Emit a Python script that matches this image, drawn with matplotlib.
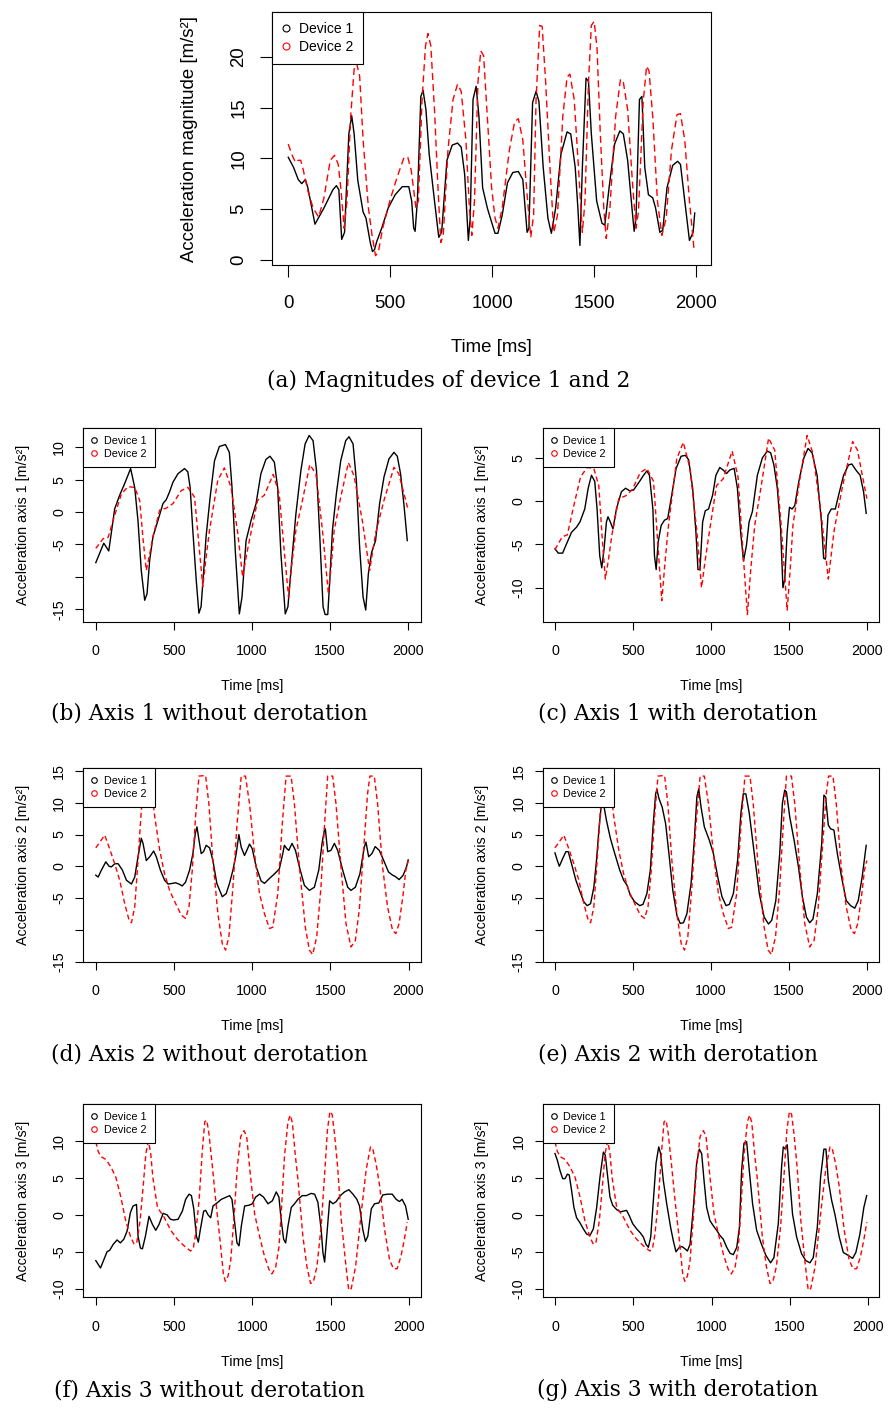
import matplotlib
matplotlib.use('Agg')
import matplotlib.pyplot as plt
from matplotlib.lines import Line2D

plt.rcParams['font.family'] = ['Liberation Sans', 'DejaVu Sans']

# ---------------- data: (time [ms], value [m/s^2]) ----------------
MAG_DEV1 = [(0,10.1),(26,9.1),(49,7.9),(66,7.5),(84,7.9),(96,7.1),(131,3.5),(175,5.1),(219,6.9),(236,7.3),
            (248,6.9),(262,2.0),(276,2.7),(297,12.4),(311,14.2),(323,12.4),(341,7.8),(367,4.7),(381,4.1),(402,1.7),
            (413,0.8),(423,1.0),(434,1.8),(458,3.1),(490,5.1),(524,6.4),(559,7.2),(591,7.2),(605,5.8),(615,3.1),
            (622,2.8),(633,5.8),(650,16.1),(661,16.7),(675,14.8),(691,10.4),(717,5.8),(738,2.2),(752,2.7),(778,9.8),
            (804,11.3),(830,11.5),(848,11.1),(865,8.4),(883,1.9),(892,4.1),(906,15.8),(921,17.1),(935,14.1),(953,7.1),
            (976,5.1),(997,3.7),(1014,2.6),(1028,2.6),(1049,4.4),(1075,7.6),(1101,8.6),(1128,8.7),(1150,7.9),(1171,2.7),
            (1180,3.1),(1198,15.5),(1215,16.6),(1229,15.6),(1250,9.1),(1273,4.1),(1290,2.6),(1311,5.1),(1337,10.4),(1367,12.6),
            (1385,12.4),(1407,9.1),(1420,5.1),(1430,1.4),(1442,9.1),(1460,17.9),(1472,17.6),(1486,12.4),(1512,5.8),(1538,3.6),
            (1552,3.4),(1573,7.1),(1600,11.4),(1626,12.7),(1643,12.4),(1664,9.8),(1687,4.7),(1696,2.8),(1705,4.1),(1722,15.8),
            (1734,16.1),(1748,9.1),(1766,6.4),(1787,6.1),(1801,5.1),(1822,2.7),(1836,2.9),(1857,7.1),(1885,9.3),(1909,9.7),
            (1923,9.4),(1944,5.8),(1967,1.9),(1985,2.7),(1993,4.6)]

MAG_DEV2 = [(0,11.4),(17,10.4),(35,9.6),(49,9.8),(61,9.8),(73,8.9),(96,6.8),(122,5.1),(149,4.2),(175,6.1),
            (206,9.8),(227,10.3),(245,9.4),(259,6.8),(274,3.1),(288,5.8),(306,14.1),(323,18.8),(336,19.3),(350,18.1),
            (367,11.8),(393,5.1),(411,2.4),(428,0.4),(441,0.7),(463,3.1),(498,5.8),(533,8.1),(568,10.1),(586,10.1),
            (603,8.8),(626,5.1),(638,5.8),(656,15.8),(673,21.1),(685,22.3),(699,21.1),(717,14.8),(734,7.1),(748,1.7),
            (760,2.4),(783,10.8),(808,15.8),(830,17.3),(848,16.6),(871,11.8),(888,5.1),(900,2.4),(913,5.8),(930,17.5),
            (944,20.6),(958,20.1),(976,14.1),(997,7.1),(1014,4.1),(1028,3.1),(1049,5.1),(1084,10.8),(1110,13.6),(1128,13.9),
            (1150,11.8),(1171,6.4),(1189,2.2),(1203,4.4),(1215,15.8),(1233,23.1),(1245,23.0),(1262,17.5),(1285,8.4),(1302,2.7),
            (1320,4.4),(1346,14.1),(1367,18.0),(1381,18.3),(1402,15.8),(1425,8.4),(1442,2.7),(1455,5.8),(1472,17.5),(1486,23.1),
            (1500,23.5),(1514,20.8),(1530,12.4),(1547,5.1),(1559,2.1),(1577,5.1),(1605,14.1),(1629,17.8),(1643,17.5),(1664,14.8),
            (1687,7.8),(1705,3.1),(1717,4.7),(1740,15.5),(1757,19.1),(1769,18.6),(1787,14.1),(1810,5.8),(1832,2.4),(1853,4.1),
            (1879,10.8),(1906,14.3),(1923,14.4),(1944,11.8),(1967,5.8),(1990,0.9)]

AX1_DEV1_RAW = [(0,-7.8),(51,-4.8),(83,-6.0),(121,0.5),(153,2.6),(185,4.4),(223,6.7),(249,3.8),(270,-1.3),(291,-9.0),
                (313,-13.6),(328,-12.6),(345,-7.4),(366,-3.8),(398,-1.3),(430,1.3),(451,1.9),(472,3.1),(494,4.6),(526,5.9),
                (568,6.7),(589,6.2),(604,3.8),(621,-2.8),(643,-10.5),(660,-15.6),(674,-14.6),(691,-9.0),(706,-3.8),(732,2.3),
                (760,7.9),(791,10.1),(830,10.4),(855,9.2),(872,3.8),(894,-6.4),(919,-15.7),(936,-13.1),(962,-4.4),(994,-1.3),
                (1026,1.3),(1057,5.9),(1089,8.1),(1115,8.6),(1143,7.7),(1164,3.8),(1185,-6.4),(1213,-15.7),(1230,-14.6),(1255,-7.4),
                (1281,-0.3),(1313,6.4),(1340,10.5),(1366,11.8),(1391,11.0),(1413,6.4),(1434,-3.8),(1455,-14.6),(1468,-15.8),(1485,-15.8),
                (1498,-10.5),(1515,-2.8),(1540,2.8),(1568,7.9),(1600,11.0),(1621,11.6),(1647,10.5),(1668,4.9),(1689,-5.4),(1711,-13.1),
                (1728,-15.1),(1745,-9.5),(1766,-6.2),(1791,-4.4),(1817,1.3),(1845,5.4),(1877,8.2),(1909,9.2),(1930,8.6),(1951,5.9),
                (1972,1.3),(1994,-4.4)]

AX1_DEV1_DEROT = [(0,-5.5),(21,-6.0),(49,-6.0),(70,-5.1),(106,-3.6),(138,-3.0),(160,-2.4),(191,-0.9),(213,1.5),(234,3.0),
                  (255,2.3),(270,-0.9),(287,-6.3),(300,-7.7),(315,-5.5),(330,-2.4),(340,-1.8),(355,-2.4),(372,-3.2),(394,-0.9),
                  (426,1.1),(453,1.5),(479,1.2),(504,1.3),(543,2.3),(568,3.0),(589,3.5),(606,3.0),(628,-0.9),(638,-6.3),
                  (649,-7.9),(662,-4.7),(681,-2.8),(702,-2.2),(723,-2.0),(745,0.3),(777,3.8),(809,5.2),(836,5.3),(857,4.8),
                  (883,1.5),(904,-3.6),(917,-7.9),(930,-7.9),(947,-2.4),(964,-1.1),(985,-0.9),(1011,0.7),(1032,3.0),(1057,3.9),
                  (1079,3.6),(1100,3.2),(1121,3.6),(1149,3.8),(1170,1.5),(1191,-3.6),(1209,-6.9),(1228,-5.1),(1245,-2.4),(1266,-1.2),
                  (1298,3.0),(1330,5.0),(1362,5.8),(1383,5.6),(1404,4.2),(1426,1.5),(1447,-3.2),(1462,-10.0),(1474,-9.0),(1489,-3.6),
                  (1504,-0.7),(1521,-0.9),(1538,-0.5),(1564,2.3),(1596,5.0),(1623,6.1),(1649,5.6),(1681,3.0),(1709,-2.4),(1723,-6.6),
                  (1734,-6.7),(1751,-1.6),(1772,-0.9),(1798,-0.9),(1819,0.7),(1851,3.0),(1883,4.2),(1904,4.3),(1930,3.6),(1957,3.0),
                  (1979,1.1),(1996,-1.4)]

AX1_DEV2 = [(0,-5.6),(47,-4.1),(79,-3.9),(121,-0.5),(164,2.8),(206,3.9),(249,3.8),(281,1.8),(302,-4.0),(323,-9.0),
            (345,-6.5),(366,-3.8),(409,0.3),(451,0.6),(494,1.3),(547,3.3),(589,3.8),(632,2.3),(660,-5.0),(685,-11.5),
            (706,-7.0),(728,-2.8),(781,4.9),(823,6.8),(866,3.8),(909,-3.3),(940,-10.0),(962,-7.0),(983,-4.4),(1036,1.8),
            (1079,2.6),(1136,5.8),(1174,2.8),(1206,-5.9),(1234,-13.1),(1255,-8.0),(1281,-2.8),(1323,1.8),(1370,7.3),(1409,5.9),
            (1451,-2.8),(1489,-12.6),(1508,-8.0),(1526,-2.8),(1568,2.3),(1617,7.6),(1653,5.6),(1706,-1.3),(1753,-9.0),(1791,-3.3),
            (1845,1.8),(1909,6.9),(1940,5.9),(2000,0.3)]

AX2_DEV1_RAW = [(0,-1.4),(15,-1.7),(36,-0.6),(64,0.7),(85,0.0),(100,-0.1),(121,0.4),(143,0.4),(170,-0.6),(196,-2.2),
                (228,-2.8),(249,-1.7),(270,1.5),(291,4.4),(302,3.6),(323,0.9),(345,1.5),(370,2.4),(387,1.5),(413,-0.6),
                (440,-2.2),(462,-2.8),(489,-2.7),(511,-2.6),(532,-2.8),(553,-3.1),(574,-2.5),(600,-0.6),(621,2.0),(636,5.1),
                (647,6.2),(660,4.1),(674,2.0),(689,2.3),(706,3.3),(728,2.9),(749,0.9),(774,-2.7),(809,-4.8),(834,-4.3),
                (855,-2.7),(877,-0.6),(898,2.0),(915,5.0),(930,3.0),(951,1.7),(966,2.5),(983,3.5),(1000,2.8),(1026,-0.1),
                (1057,-2.3),(1079,-2.7),(1111,-1.9),(1143,-1.2),(1174,-0.4),(1196,2.0),(1206,3.3),(1221,2.8),(1234,2.5),(1255,3.6),
                (1277,2.5),(1302,-0.1),(1334,-3.0),(1366,-3.8),(1398,-3.3),(1426,-0.6),(1447,3.6),(1462,5.7),(1468,5.9),(1483,2.3),
                (1504,2.5),(1526,3.6),(1547,2.5),(1579,-0.6),(1611,-3.3),(1632,-3.8),(1660,-3.3),(1689,-1.2),(1717,3.0),(1728,3.8),
                (1745,1.5),(1766,2.0),(1787,3.1),(1813,2.5),(1845,0.7),(1872,-0.9),(1898,-1.4),(1915,-1.6),(1940,-2.1),(1966,-1.4),
                (1987,-0.1),(1998,1.0)]

AX2_DEV1_DEROT = [(0,2.1),(15,0.9),(28,0.0),(49,1.2),(70,2.3),(85,2.3),(106,0.4),(134,-2.2),(160,-4.0),(185,-5.6),
                  (206,-6.2),(228,-5.9),(249,-3.3),(266,0.9),(283,6.2),(298,9.9),(309,10.1),(330,7.2),(355,4.4),(383,2.0),
                  (415,-0.6),(440,-2.2),(462,-3.0),(483,-4.6),(511,-5.6),(543,-6.2),(564,-6.0),(589,-4.3),(611,-0.6),(628,6.2),
                  (645,11.4),(653,12.1),(666,10.7),(687,9.3),(709,6.7),(730,2.0),(755,-3.8),(781,-7.7),(802,-9.0),(823,-8.9),
                  (845,-7.5),(872,-2.7),(894,4.6),(909,10.9),(921,12.2),(936,9.3),(957,6.2),(989,4.1),(1015,2.0),(1043,-1.7),
                  (1070,-4.8),(1096,-6.2),(1117,-6.0),(1143,-4.3),(1170,0.9),(1191,8.3),(1206,11.4),(1223,11.4),(1245,8.3),(1277,2.0),
                  (1309,-4.3),(1340,-8.0),(1368,-9.1),(1389,-8.5),(1415,-5.4),(1440,2.0),(1457,9.9),(1472,12.0),(1483,11.7),(1504,7.8),
                  (1532,4.1),(1560,-0.1),(1585,-4.8),(1611,-8.0),(1632,-8.9),(1653,-8.3),(1681,-4.3),(1709,3.6),(1723,11.2),(1734,10.9),
                  (1751,6.5),(1766,5.9),(1787,5.7),(1809,2.0),(1840,-2.2),(1866,-5.4),(1894,-6.2),(1921,-6.6),(1943,-5.4),(1968,-1.7),
                  (1994,3.3)]

AX2_DEV2 = [(0,2.9),(26,3.8),(57,4.9),(85,3.0),(121,0.4),(153,-2.2),(185,-5.9),(213,-8.5),(228,-8.9),(249,-6.4),
            (270,0.9),(291,8.8),(313,13.0),(334,14.3),(355,12.5),(377,7.8),(409,2.5),(440,-1.2),(472,-3.8),(511,-5.9),
            (547,-7.7),(574,-8.2),(596,-6.4),(617,-0.6),(638,7.8),(660,14.2),(702,14.3),(723,9.9),(749,0.9),(781,-7.5),
            (809,-12.2),(830,-13.2),(851,-11.1),(877,-3.3),(902,6.2),(930,14.2),(957,14.2),(983,9.9),(1015,2.0),(1047,-4.3),
            (1079,-7.5),(1111,-9.8),(1132,-9.6),(1164,-4.3),(1191,6.2),(1217,14.2),(1249,14.2),(1270,9.9),(1302,-0.1),(1340,-9.6),
            (1366,-13.2),(1387,-13.9),(1413,-11.1),(1440,-3.3),(1462,6.2),(1483,14.2),(1515,14.2),(1536,9.9),(1568,-0.1),(1600,-9.0),
            (1632,-12.7),(1660,-11.7),(1685,-6.9),(1711,2.0),(1738,11.4),(1753,14.2),(1781,14.2),(1802,9.9),(1834,-0.1),(1866,-6.4),
            (1898,-10.1),(1919,-10.6),(1940,-9.0),(1966,-4.3),(1983,-0.6),(1998,0.9)]

AX3_DEV1_RAW = [(0,-6.2),(30,-7.2),(51,-6.1),(72,-5.0),(89,-4.8),(111,-4.0),(136,-3.4),(157,-3.8),(179,-3.3),(200,-2.2),
                (221,0.3),(238,1.2),(260,1.4),(270,-2.9),(285,-4.5),(298,-4.6),(317,-2.9),(340,-0.2),(362,-1.3),(383,-2.1),
                (404,-1.3),(430,0.2),(455,0.0),(477,-0.6),(498,-0.7),(526,-0.6),(553,0.5),(574,2.1),(596,2.8),(611,2.6),
                (626,0.8),(643,-2.9),(655,-3.7),(668,-2.0),(689,0.5),(702,0.6),(717,0.0),(734,-0.4),(749,1.2),(774,1.6),
                (802,2.1),(834,2.4),(855,2.6),(870,2.1),(887,-1.0),(902,-3.8),(915,-4.2),(930,-1.5),(951,1.2),(979,1.3),
                (1000,1.5),(1021,2.4),(1047,2.8),(1072,2.4),(1100,1.5),(1128,1.9),(1153,3.1),(1170,2.4),(1185,-0.8),(1200,-3.3),
                (1213,-3.8),(1228,-1.5),(1249,1.0),(1270,1.5),(1291,2.1),(1319,2.6),(1345,2.6),(1376,2.9),(1398,2.8),(1419,1.7),
                (1440,-2.0),(1451,-5.1),(1462,-6.4),(1472,-3.8),(1494,1.9),(1515,1.5),(1536,1.8),(1562,2.6),(1589,3.1),(1617,3.4),
                (1643,2.8),(1668,2.1),(1685,1.2),(1706,-2.0),(1723,-3.6),(1738,-2.9),(1760,0.8),(1781,1.5),(1808,1.6),(1834,2.7),
                (1866,2.8),(1894,2.8),(1919,2.1),(1940,1.8),(1957,2.1),(1979,1.2),(1996,-0.6)]

AX3_DEV1_DEROT = [(0,8.3),(15,7.4),(32,6.0),(49,4.9),(64,4.9),(79,5.5),(91,5.4),(106,3.3),(121,1.0),(138,-0.4),
                  (160,-1.1),(181,-1.9),(202,-2.6),(223,-2.8),(245,-1.9),(266,1.0),(287,5.1),(309,8.5),(321,8.1),(334,5.6),
                  (351,2.4),(368,1.3),(394,0.7),(419,0.4),(436,0.5),(457,0.6),(474,-0.1),(496,-1.2),(521,-1.9),(543,-2.4),
                  (564,-3.0),(581,-4.0),(596,-4.4),(611,-3.0),(628,2.0),(645,7.0),(662,9.2),(674,8.3),(691,4.7),(713,1.5),
                  (738,-1.7),(755,-3.5),(772,-5.0),(794,-4.4),(811,-4.3),(830,-4.6),(845,-4.9),(862,-4.0),(883,1.0),(904,7.0),
                  (921,8.9),(936,8.3),(951,4.7),(968,1.0),(989,-0.8),(1011,-1.5),(1032,-2.1),(1053,-2.8),(1074,-3.3),(1096,-4.4),
                  (1117,-5.2),(1138,-5.4),(1160,-4.4),(1177,-1.7),(1191,6.0),(1206,9.7),(1223,9.9),(1240,6.0),(1261,1.5),(1287,-2.1),
                  (1318,-4.0),(1346,-5.5),(1376,-6.5),(1397,-5.8),(1425,-1.2),(1446,6.5),(1457,9.2),(1470,8.9),(1482,9.5),(1495,5.6),
                  (1516,0.1),(1542,-3.0),(1574,-5.3),(1601,-6.2),(1627,-6.5),(1648,-5.8),(1674,-1.7),(1695,5.1),(1716,8.9),(1729,8.9),
                  (1744,4.7),(1765,2.0),(1786,0.1),(1814,-3.0),(1840,-5.1),(1872,-5.5),(1899,-5.9),(1920,-5.1),(1946,-2.6),(1971,1.0),
                  (1989,2.6)]

AX3_DEV2 = [(0,9.9),(15,8.6),(32,7.9),(64,7.5),(96,6.5),(128,5.1),(160,2.4),(191,-0.8),(223,-3.0),(245,-4.0),
            (262,-3.7),(283,-0.8),(304,4.2),(320,8.3),(336,10.0),(350,8.5),(365,5.0),(394,1.0),(436,-0.3),(479,-2.1),
            (521,-3.3),(564,-4.2),(606,-4.9),(623,-4.5),(638,-2.6),(660,2.0),(681,8.8),(696,12.6),(709,12.8),(723,11.0),
            (745,6.5),(766,2.0),(794,-3.5),(815,-8.0),(828,-9.0),(845,-8.3),(862,-6.2),(883,-0.3),(904,6.5),(926,10.6),
            (947,11.4),(964,10.6),(989,5.1),(1015,0.1),(1043,-2.6),(1074,-5.3),(1106,-7.4),(1125,-8.0),(1149,-7.1),(1170,-4.4),
            (1185,0.3),(1206,8.1),(1228,12.6),(1242,13.5),(1256,12.5),(1275,8.0),(1291,4.9),(1323,-2.9),(1349,-7.0),(1372,-9.3),
            (1390,-9.1),(1413,-7.0),(1440,-1.5),(1462,5.5),(1480,11.5),(1496,14.0),(1510,13.6),(1525,11.0),(1545,6.5),(1568,-0.6),
            (1596,-6.5),(1616,-10.2),(1632,-10.0),(1660,-7.0),(1696,0.3),(1728,6.2),(1755,9.2),(1770,8.9),(1790,7.0),(1813,4.0),
            (1845,-2.0),(1877,-6.1),(1902,-7.3),(1925,-7.3),(1950,-5.6),(1970,-3.5),(1990,-1.0)]

X_TICKS = [0, 500, 1000, 1500, 2000]
SERIES_LABELS = ['Device 1', 'Device 2']
XLABEL = 'Time [ms]'

# ---------------- layout ----------------
W, H = 888, 1410
fig = plt.figure(figsize=(W / 100, H / 100), dpi=100)


def rect(l, t, r, b):
    return [l / W, 1 - b / H, (r - l) / W, (b - t) / H]


def panel(box, black, red, yticks, ylabels, ylabel, big=False):
    ax = fig.add_axes(rect(*box))
    fs = 13.4 if big else 10.3
    tb, vb = zip(*black)
    tr, vr = zip(*red)
    ax.plot(tb, vb, color='black', lw=1.0, zorder=2)
    ax.plot(tr, vr, color='red', lw=1.0, dashes=(5, 3) if big else (3.6, 2.3), zorder=3)
    ax.margins(x=0.04, y=0.04)
    ax.set_xticks(X_TICKS)
    ax.set_xticklabels([str(t) for t in X_TICKS])
    ax.set_yticks(yticks)
    ax.set_yticklabels(ylabels)
    for s in ax.spines.values():
        s.set_linewidth(0.8)
    tl = 8.6 if big else 6.0
    ax.tick_params(axis='both', labelsize=fs, length=tl, width=0.8, direction='out')
    ax.tick_params(axis='x', pad=13 if big else 10)
    ax.tick_params(axis='y', pad=9.3 if big else 6.3, labelrotation=90)
    for lab in ax.get_yticklabels():
        lab.set_va('center')
    ax.set_xlabel(XLABEL, fontsize=fs)
    ax.set_ylabel(ylabel, fontsize=fs)
    ax.xaxis.label.set_va('center')
    ax.yaxis.label.set_va('center')
    wpx = box[2] - box[0]
    hpx = box[3] - box[1]
    if big:
        ax.xaxis.set_label_coords(0.5, -83 / hpx)
        ax.yaxis.set_label_coords(-82 / wpx, 0.5)
    else:
        ax.xaxis.set_label_coords(0.5, -64.3 / hpx)
        ax.yaxis.set_label_coords(-60.3 / wpx, 0.5)
    lfs = 10 if big else 7.8
    ms = 5 if big else 4
    handles = [Line2D([], [], ls='none', marker='o', mfc='none', mec=c, ms=ms, mew=0.8, label=l)
               for c, l in zip(['black', 'red'], SERIES_LABELS)]
    leg = ax.legend(handles=handles, loc='upper left', borderaxespad=0, fontsize=lfs, frameon=True,
                    fancybox=False, framealpha=1, edgecolor='black', borderpad=0.72,
                    labelspacing=0.3 if big else 0.25, handlelength=0.6, handletextpad=0.6)
    leg.get_frame().set_linewidth(0.8)
    leg.set_zorder(5)
    return ax


Y_A = [0, 5, 10, 15, 20]
Y_B = [-15, -10, -5, 0, 5, 10]
YL_B = ['-15', '', '-5', '0', '5', '10']
Y_C = [-10, -5, 0, 5]
Y_D = [-15, -10, -5, 0, 5, 10, 15]
YL_D = ['-15', '', '-5', '0', '5', '10', '15']
Y_F = [-10, -5, 0, 5, 10]

panel((272, 12, 711, 265), MAG_DEV1, MAG_DEV2, Y_A, [str(v) for v in Y_A],
      'Acceleration magnitude [m/s²]', big=True)

LX = (83.3, 420.7)
RX = (542.5, 879.3)
ROWS = [(428.3, 621.7), (768.3, 961.7), (1104.3, 1297.3)]

panel((LX[0], ROWS[0][0], LX[1], ROWS[0][1]), AX1_DEV1_RAW, AX1_DEV2, Y_B, YL_B, 'Acceleration axis 1 [m/s²]')
panel((RX[0], ROWS[0][0], RX[1], ROWS[0][1]), AX1_DEV1_DEROT, AX1_DEV2, Y_C, [str(v) for v in Y_C],
      'Acceleration axis 1 [m/s²]')
panel((LX[0], ROWS[1][0], LX[1], ROWS[1][1]), AX2_DEV1_RAW, AX2_DEV2, Y_D, YL_D, 'Acceleration axis 2 [m/s²]')
panel((RX[0], ROWS[1][0], RX[1], ROWS[1][1]), AX2_DEV1_DEROT, AX2_DEV2, Y_D, YL_D, 'Acceleration axis 2 [m/s²]')
panel((LX[0], ROWS[2][0], LX[1], ROWS[2][1]), AX3_DEV1_RAW, AX3_DEV2, Y_F, [str(v) for v in Y_F],
      'Acceleration axis 3 [m/s²]')
panel((RX[0], ROWS[2][0], RX[1], ROWS[2][1]), AX3_DEV1_DEROT, AX3_DEV2, Y_F, [str(v) for v in Y_F],
      'Acceleration axis 3 [m/s²]')

# ---------------- captions ----------------
CAPTIONS = [
    ('(a) Magnitudes of device 1 and 2', 448.6, 381),
    ('(b) Axis 1 without derotation', 209, 714),
    ('(c) Axis 1 with derotation', 677.5, 714),
    ('(d) Axis 2 without derotation', 209, 1054),
    ('(e) Axis 2 with derotation', 677.5, 1054),
    ('(f) Axis 3 without derotation', 209, 1390),
    ('(g) Axis 3 with derotation', 677.5, 1390),
]
CAP_FONT = ['DejaVu Serif']

# fit caption font size so that caption (b) spans ~316 px
probe = fig.text(0.5, 0.5, CAPTIONS[1][0], fontsize=12, family=CAP_FONT)
fig.canvas.draw()
wprobe = probe.get_window_extent().width
probe.remove()
cap_fs = 12 * 316 / wprobe

for txt, x, y in CAPTIONS:
    fig.text(x / W, 1 - y / H, txt, ha='center', va='center', fontsize=cap_fs, family=CAP_FONT)

fig.savefig('out.png', dpi=100)
